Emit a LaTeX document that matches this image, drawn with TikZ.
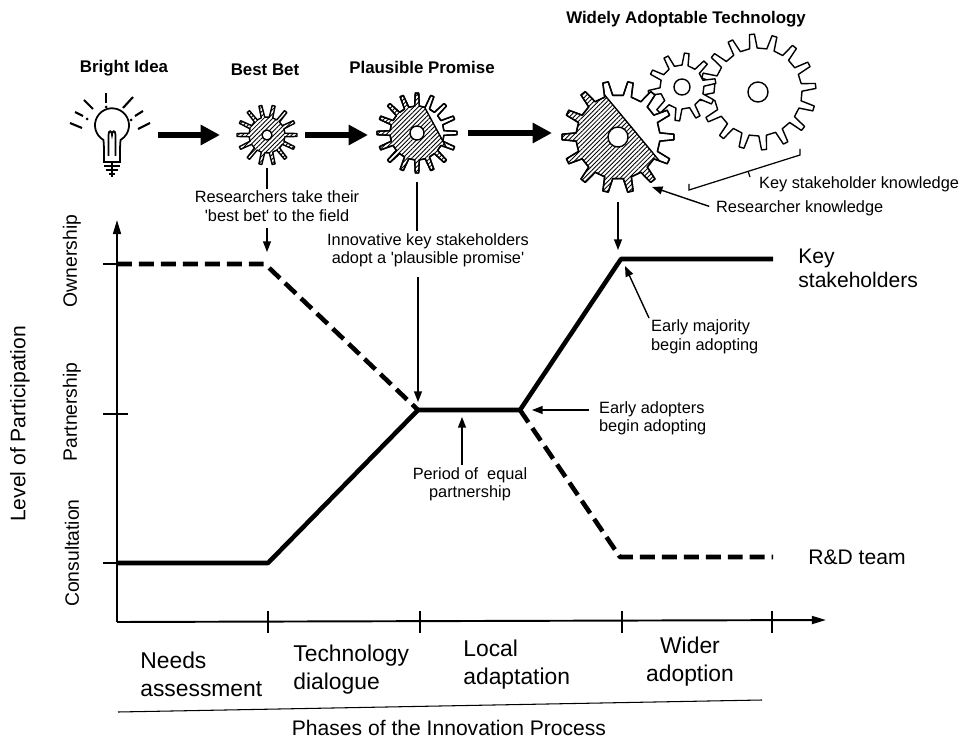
\documentclass[tikz,border=0pt]{standalone}
\usepackage{fontspec}
\setmainfont{Liberation Sans}
\usetikzlibrary{arrows.meta,patterns.meta}

\tikzstyle{title} = [font=\fontsize{9.6}{11}\selectfont\bfseries]
\tikzstyle{note} = [font=\fontsize{9.3}{10.5}\selectfont, align=center, inner sep=1pt]
\tikzstyle{big} = [font=\fontsize{12}{13.5}\selectfont, align=left, inner sep=0pt]
\tikzstyle{phaselabel} = [font=\fontsize{13}{16}\selectfont, align=left, anchor=west, inner sep=0pt]
\tikzstyle{levellabel} = [font=\fontsize{11}{13}\selectfont, rotate=90, inner sep=0pt]
\tikzstyle{keyline} = [line width=2.6pt, line join=round]
\tikzstyle{rdline} = [keyline, dash pattern=on 8.5pt off 4pt]
\tikzstyle{axis} = [line width=1.1pt, -{Triangle[length=8pt,width=4.5pt]}]
\tikzstyle{line} = [draw, line width=0.8pt, -{Triangle[length=6pt,width=4.5pt]}]
\tikzstyle{bigarrow} = [draw, line width=3.4pt, -{Triangle[length=11pt,width=11pt]}]
\tikzstyle{gear} = [line width=0.8pt, line join=round, fill=white]
\tikzstyle{hatch} = [pattern={Lines[angle=45,distance=1.8pt,line width=0.5pt]}]

% gear outline: teeth, root radius, tip radius
\newcommand{\gearpath}[3]{({-0.22*360/#1}:#2)
  \foreach \k in {1,...,#1}{
    -- ({(\k-1-0.22)*360/#1}:#2) -- ({(\k-1-0.11)*360/#1}:#3)
    -- ({(\k-1+0.11)*360/#1}:#3) -- ({(\k-1+0.22)*360/#1}:#2)} -- cycle}

\begin{document}
\begin{tikzpicture}[x=0.2mm, y=-0.2mm]
\useasboundingbox (0,0) rectangle (965,740);

%% Place coordinates
\coordinate (bulb) at (112,126);
\coordinate (g1) at (267,135);
\coordinate (g2) at (417,133);
\coordinate (g3) at (618,137);
\coordinate (g4) at (682,87);
\coordinate (g5) at (758,92);
\coordinate (origin) at (117,622);
\coordinate (ytop) at (117,220);
\coordinate (xend) at (826,620);
\coordinate (own) at (117,264);
\coordinate (part) at (117,414);
\coordinate (cons) at (117,563);

%% Place nodes
\node [title] (idea) at (124,68) {Bright Idea};
\node [title] (bestbet) at (265,70) {Best Bet};
\node [title] (promise) at (422,67) {Plausible Promise};
\node [title] (widely) at (686,19) {Widely Adoptable Technology};
\node [note] (bbnote) at (277,206) {Researchers take their\\\textquotesingle best bet\textquotesingle\ to the field};
\node [note] (ppnote) at (428,250) {Innovative key stakeholders\\adopt a \textquotesingle plausible promise\textquotesingle};
\node [note] (eqnote) at (470,484) {Period of\ \ equal\\partnership};
\node [note, align=left, anchor=west] (eanote) at (597,418) {Early adopters\\begin adopting};
\node [note, align=left, anchor=north west] (emnote) at (649,318) {Early majority\\begin adopting};
\node [note, anchor=west] (rknote) at (714,208) {Researcher knowledge};
\node [note, anchor=west] (ksknote) at (757,184) {Key stakeholder knowledge};
\node [big, anchor=west] (kslabel) at (798,268) {Key\\stakeholders};
\node [big, anchor=west] (rdlabel) at (808,557) {R\&D team};
\node [phaselabel] (needs) at (140,674) {Needs\\assessment};
\node [phaselabel] (techdia) at (293,670) {Technology\\dialogue};
\node [phaselabel] (local) at (463,665) {Local\\adaptation};
\node [phaselabel, align=center, anchor=center] (wider) at (690,662) {Wider\\adoption};
\node [big] (phases) at (449,728) {Phases of the Innovation Process};
\node [big, rotate=90] (lop) at (20,424) {Level of Participation};
\node [levellabel] (ownlabel) at (72,261) {Ownership};
\node [levellabel] (partlabel) at (72,412) {Partnership};
\node [levellabel] (conslabel) at (72,553) {Consultation};

%% Light bulb
\draw [line width=1pt, shift={(bulb)}] (-8,36) -- (-8,22) -- (-8.5,14)
  arc [start angle=120, end angle=420, radius=17] -- (8,22) -- (8,36) -- cycle;
\draw [line width=1pt, shift={(bulb)}] (-3.5,30) -- (-3.5,9) .. controls (-3.5,4) and (0,4) .. (0,9)
  .. controls (0,4) and (3.5,4) .. (3.5,9) -- (3.5,30);
\draw [line width=1pt, shift={(bulb)}] (-8,40) -- (8,40) (-6,44) -- (6,44) (-3,48) -- (3,48) (0,36) -- (0,51);
\foreach \a/\b/\c/\d in {70/123/82/128, 75/112/83/116, 84/100/93/109, 106/93/106/103,
    123/108/133/97, 135/116/143/111, 138/129/150/123}{
    \draw [line width=1.2pt] (\a,\b) -- (\c,\d);
}
\foreach \p in {(87,119), (131,120), (106,107)}{
    \fill \p circle [radius=1.5];
}

%% Gears
\draw [gear, hatch, shift={(g1)}] \gearpath{14}{18}{30};
\draw [gear] (g1) circle [radius=5];

\draw [gear, shift={(g2)}] \gearpath{16}{27}{40};
\begin{scope}
  \clip (384,32) -- (486,221) -- (360,221) -- (360,32) -- cycle;
  \fill [hatch, shift={(g2)}] \gearpath{16}{27}{40};
\end{scope}
\begin{scope}
  \clip [shift={(g2)}] \gearpath{16}{27}{40};
  \draw [line width=0.8pt] (384,32) -- (486,221);
\end{scope}
\draw [gear, fill=none, shift={(g2)}] \gearpath{16}{27}{40};
\draw [gear] (g2) circle [radius=7];

\draw [gear, shift={(g5)}, rotate=6] \gearpath{16}{44}{58};
\draw [gear] (g5) circle [radius=10];
\draw [gear, shift={(g4)}, rotate=10] \gearpath{10}{22}{34};
\draw [gear] (g4) circle [radius=8];

\draw [gear, shift={(g3)}] \gearpath{14}{42}{56};
\begin{scope}
  \clip (539,16) -- (731,247) -- (530,247) -- (530,16) -- cycle;
  \fill [hatch, shift={(g3)}] \gearpath{14}{42}{56};
\end{scope}
\begin{scope}
  \clip [shift={(g3)}] \gearpath{14}{42}{56};
  \draw [line width=0.8pt] (539,16) -- (731,247);
\end{scope}
\draw [gear, fill=none, shift={(g3)}] \gearpath{14}{42}{56};
\draw [gear] (g3) circle [radius=10];

%% Bracket for key stakeholder knowledge
\draw [line width=0.7pt] (689,184) -- (689,190) -- (800,155) -- (800,149);
\draw [line width=0.7pt] (748,171) -- (750,177);

%% Big arrows between stages
\path [bigarrow, shorten <=9.2mm, shorten >=9.4mm] (bulb |- g1) -- (g1);
\path [bigarrow, shorten <=7.6mm, shorten >=9.8mm] (g1) -- (g1 -| g2);
\path [bigarrow, shorten <=10.2mm, shorten >=13.2mm] (g2) -- (g2 -| g3);

%% Axes
\draw [axis] (origin) -- (ytop);
\draw [axis] (origin) -- (xend);
\foreach \lv in {own,part,cons}{
    \draw [line width=1.1pt] ([xshift=-2.8mm]\lv) -- ([xshift=2.2mm]\lv);
}
\foreach \x in {268,420,622,772}{
    \draw [line width=1.1pt] (\x,611) -- (\x,633);
}
\draw [line width=0.6pt] (118,712) -- (762,700);

%% Participation lines
\coordinate (k1) at (268,563);
\coordinate (k2) at (418,410);
\coordinate (k3) at (520,410);
\coordinate (k4) at (621,259);
\coordinate (kend) at (773,259);
\coordinate (r1) at (265,264);
\coordinate (r4) at (620,557);
\coordinate (rend) at (773,557);
\draw [keyline] (cons) -- (k1) -- (k2) -- (k3) -- (k4) -- (kend);
\draw [rdline] (own) -- (r1) -- (k2);
\draw [rdline] (k3) -- (r4) -- (rend);

%% Annotation arrows
\coordinate (bbtip) at (267,252);
\coordinate (pptip) at (418,402);
\coordinate (wtip) at (620,250);
\coordinate (eqtip) at (462,417);
\coordinate (eatip) at (532,410);
\coordinate (emtip) at (625,266);
\coordinate (rktip) at (652,187);
\draw [line width=0.8pt, shorten <=6.6mm] (g1) -- (g1 |- bbnote.north);
\path [line, shorten <=1mm] (bbnote.south -| bbtip) -- (bbtip);
\draw [line width=0.8pt, shorten <=9.8mm] (g2) -- (g2 |- ppnote.north);
\path [line, shorten <=1.6mm] (ppnote.south -| pptip) -- (pptip);
\path [line, shorten <=13mm] (g3) -- (g3 |- wtip);
\path [line] (eqnote.north -| eqtip) -- (eqtip);
\path [line, shorten <=1.6mm] (eanote.west |- eatip) -- (eatip);
\path [line] (emnote.north west) -- (emtip);
\path [line, shorten <=1mm] (rknote.west) -- (rktip);
\end{tikzpicture}
\end{document}
